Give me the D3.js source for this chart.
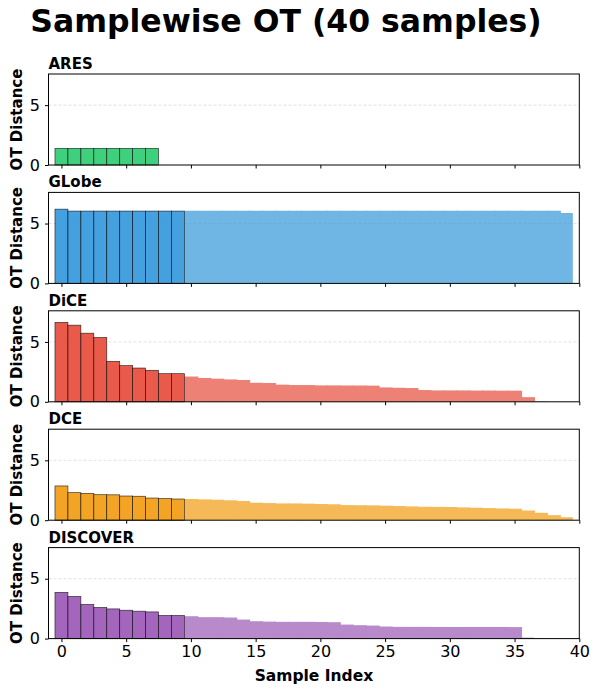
<!DOCTYPE html>
<html>
<head>
<meta charset="utf-8">
<script src="https://cdn.jsdelivr.net/npm/d3@7/dist/d3.min.js"></script>
<style>
  html, body { margin: 0; padding: 0; background: #fff; }
  svg { display: block; font-family: "DejaVu Sans", sans-serif; }
</style>
</head>
<body>
<svg id="chart" width="600" height="694"></svg>
<script>
// ---- data ----
const methods = ["ARES", "GLobe", "DiCE", "DCE", "DISCOVER"];
const colors = ["#2ecc71", "#3498db", "#e74c3c", "#f39c12", "#9b59b6"];
const highlightCount = 10;   // first samples drawn with edges
const xTicks = [0, 5, 10, 15, 20, 25, 30, 35, 40];
const yTicks = [0, 5];

const aresValues = [1.39, 1.39, 1.39, 1.39, 1.39, 1.39, 1.39, 1.39];
const globeValues = [6.20, 6.04, 6.04, 6.04, 6.04, 6.04, 6.04, 6.04, 6.04, 6.04,
  6.07, 6.07, 6.07, 6.07, 6.07, 6.07, 6.07, 6.07, 6.07, 6.07,
  6.07, 6.07, 6.07, 6.07, 6.07, 6.07, 6.07, 6.07, 6.07, 6.07,
  6.07, 6.07, 6.07, 6.07, 6.07, 6.07, 6.07, 6.07, 6.07, 5.88];
const diceValues = [6.63, 6.40, 5.73, 5.37, 3.38, 3.02, 2.82, 2.63, 2.35, 2.35,
  2.11, 1.99, 1.93, 1.87, 1.82, 1.59, 1.57, 1.43, 1.40, 1.40,
  1.37, 1.37, 1.36, 1.36, 1.35, 1.20, 1.17, 1.15, 0.98, 0.95,
  0.95, 0.95, 0.94, 0.94, 0.93, 0.93, 0.39, 0.03];
const dceValues = [2.86, 2.30, 2.24, 2.13, 2.12, 2.02, 2.00, 1.85, 1.80, 1.77,
  1.77, 1.74, 1.71, 1.66, 1.60, 1.46, 1.43, 1.40, 1.40, 1.38,
  1.35, 1.33, 1.26, 1.25, 1.24, 1.21, 1.18, 1.15, 1.12, 1.11,
  1.10, 1.07, 1.04, 1.01, 0.98, 0.96, 0.81, 0.62, 0.42, 0.25];
const discoverValues = [3.86, 3.52, 2.85, 2.60, 2.48, 2.37, 2.29, 2.23, 1.93, 1.93,
  1.87, 1.79, 1.79, 1.76, 1.59, 1.45, 1.42, 1.40, 1.40, 1.40,
  1.39, 1.37, 1.17, 1.12, 1.09, 1.01, 0.98, 0.98, 0.98, 0.97,
  0.97, 0.97, 0.97, 0.97, 0.97, 0.96, 0.08];
const seriesValues = [aresValues, globeValues, diceValues, dceValues, discoverValues];

// ---- layout ----
const svg = d3.select("#chart");
const left = 48.5, right = 579.3;
const panelTop0 = 74, panelStep = 118.4, panelH = 91;

const x = d3.scaleLinear().domain([-1, 40]).range([left, right]);

svg.append("text")
  .attr("x", 286).attr("y", 32)
  .attr("text-anchor", "middle")
  .attr("font-size", 31.5).attr("font-weight", "bold")
  .attr("fill", "#000")
  .text("Samplewise OT (40 samples)");

methods.forEach((name, mi) => {
  const top = panelTop0 + mi * panelStep;
  const y = d3.scaleLinear().domain([0, 7.6]).range([top + panelH, top]);
  const g = svg.append("g");
  const vals = seriesValues[mi];
  const data = vals.map((v, i) => ({ i, v }));

  // grid
  g.selectAll(".grid").data(yTicks.filter(t => t > 0)).join("line")
    .attr("x1", left).attr("x2", right)
    .attr("y1", d => y(d)).attr("y2", d => y(d))
    .attr("stroke", "#d9d9d9").attr("stroke-width", 0.8)
    .attr("stroke-dasharray", "3,2");

  // light bars (no edges) - grouped so overlaps don't create seams
  const light = data.filter(d => d.i >= highlightCount);
  g.append("g").attr("opacity", 0.7)
    .selectAll("rect").data(light).join("rect")
    .attr("x", d => x(d.i - 0.5))
    .attr("width", (d, k) => x(d.i + 0.5) - x(d.i - 0.5) + (k < light.length - 1 ? 1 : 0))
    .attr("y", d => y(d.v))
    .attr("height", d => y(0) - y(d.v))
    .attr("fill", colors[mi]);

  // highlighted bars (with edges)
  g.selectAll(".dark").data(data.filter(d => d.i < highlightCount)).join("rect")
    .attr("x", d => x(d.i - 0.5))
    .attr("width", d => x(d.i + 0.5) - x(d.i - 0.5))
    .attr("y", d => y(d.v))
    .attr("height", d => y(0) - y(d.v))
    .attr("fill", colors[mi]).attr("fill-opacity", 0.92)
    .attr("stroke", "#000").attr("stroke-opacity", 0.75).attr("stroke-width", 0.7);

  // frame
  g.append("rect")
    .attr("x", left).attr("y", top)
    .attr("width", right - left).attr("height", panelH)
    .attr("fill", "none").attr("stroke", "#000").attr("stroke-width", 1);

  // y axis
  const yAxis = d3.axisLeft(y).tickValues(yTicks).tickSize(3.5).tickPadding(5).tickFormat(d3.format("d"));
  const ya = g.append("g").attr("transform", `translate(${left},0)`).call(yAxis);
  ya.select(".domain").remove();
  ya.selectAll("text").attr("font-size", 16).attr("font-family", "DejaVu Sans").attr("fill", "#000");

  // x axis
  const xAxis = d3.axisBottom(x).tickValues(xTicks).tickSize(3.5).tickPadding(4)
    .tickFormat(mi === methods.length - 1 ? d3.format("d") : () => "");
  const xa = g.append("g").attr("transform", `translate(0,${top + panelH})`).call(xAxis);
  xa.select(".domain").remove();
  xa.selectAll("text").attr("font-size", 16).attr("font-family", "DejaVu Sans").attr("fill", "#000");

  // panel title
  g.append("text")
    .attr("x", left).attr("y", top - 5)
    .attr("font-size", 15).attr("font-weight", "bold")
    .text(name);

  // y label
  g.append("text")
    .attr("transform", `translate(22,${top + panelH / 2}) rotate(-90)`)
    .attr("text-anchor", "middle")
    .attr("font-size", 15).attr("font-weight", "bold")
    .text("OT Distance");
});

svg.append("text")
  .attr("x", (left + right) / 2).attr("y", 681)
  .attr("text-anchor", "middle")
  .attr("font-size", 15.5).attr("font-weight", "bold")
  .text("Sample Index");
</script>
</body>
</html>
